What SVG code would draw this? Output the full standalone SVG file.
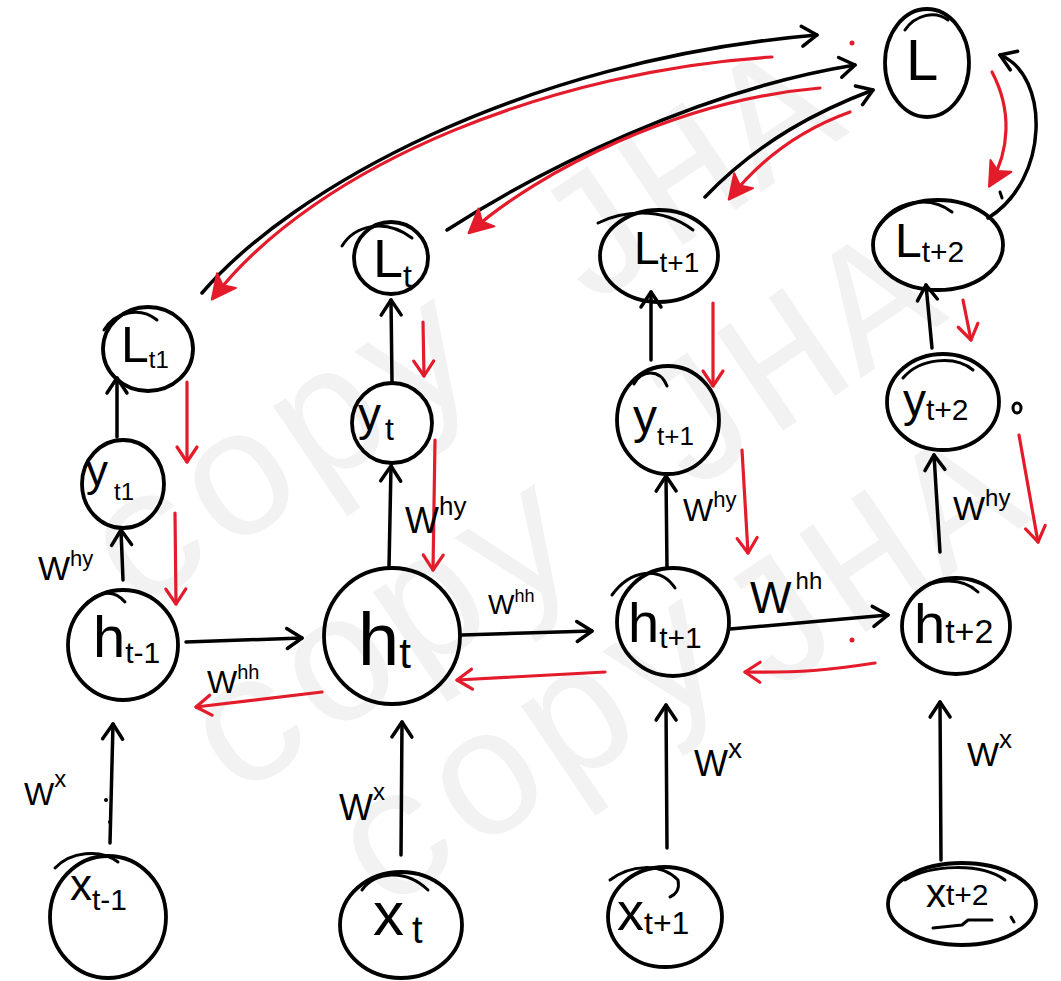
<svg xmlns="http://www.w3.org/2000/svg" width="1061" height="981" viewBox="0 0 1061 981">
<style>
.k{fill:none;stroke:#000;stroke-width:3.5;stroke-linecap:round;stroke-linejoin:round}
.r{fill:none;stroke:#e31b2b;stroke-width:3.2;stroke-linecap:round;stroke-linejoin:round}
.n{fill:none;stroke:#000;stroke-width:3.8}
.t{font-family:"Liberation Sans",Arial,sans-serif;fill:#000}
.wm{font-family:"Liberation Mono","Courier New",monospace;font-size:180px;fill:#f2f2f2}
</style>
<defs>
<marker id="ak" viewBox="-18 -13 22 26" markerWidth="22" markerHeight="26" refX="0" refY="0" orient="auto" markerUnits="userSpaceOnUse"><path d="M-15,-10 L0,0 L-15,10" fill="none" stroke="#000" stroke-width="3.5" stroke-linecap="round" stroke-linejoin="round"/></marker>
<marker id="ar" viewBox="-18 -13 22 26" markerWidth="22" markerHeight="26" refX="0" refY="0" orient="auto" markerUnits="userSpaceOnUse"><path d="M-15,-10 L0,0 L-15,10" fill="none" stroke="#e31b2b" stroke-width="3.2" stroke-linecap="round" stroke-linejoin="round"/></marker>
<marker id="af" viewBox="-26 -15 30 30" markerWidth="30" markerHeight="30" refX="0" refY="0" orient="auto" markerUnits="userSpaceOnUse"><path d="M-22,-12 L2,0 L-22,12 L-16,0 Z" fill="#e31b2b" stroke="#e31b2b" stroke-width="2" stroke-linejoin="round"/></marker>
</defs>
<rect width="1061" height="981" fill="#fff"/>
<g id="watermark" class="wm" transform="rotate(-34)">
<text x="-233" y="585">copy</text>
<text x="307" y="585">JHA</text>
<text x="-254" y="795">copy</text>
<text x="286" y="795">JHA</text>
<text x="-195" y="972">copy</text>
<text x="242" y="1008">JHA</text>
</g>
<g id="connectors">
<path class="k" d="M110,843 L113,724" marker-end="url(#ak)"/>
<path class="k" d="M401,855 L402,722" marker-end="url(#ak)"/>
<path class="k" d="M667,848 L666,705" marker-end="url(#ak)"/>
<path class="k" d="M941,860 L940,702" marker-end="url(#ak)"/>
<path class="k" d="M123,580 L121,530" marker-end="url(#ak)"/>
<path class="k" d="M389,568 L391,466" marker-end="url(#ak)"/>
<path class="k" d="M667,568 L666,476" marker-end="url(#ak)"/>
<path class="k" d="M940,552 L934,455" marker-end="url(#ak)"/>
<path class="k" d="M117,437 L117,378" marker-end="url(#ak)"/>
<path class="k" d="M392,382 L391,300" marker-end="url(#ak)"/>
<path class="k" d="M651,360 L651,292" marker-end="url(#ak)"/>
<path class="k" d="M932,348 L926,285" marker-end="url(#ak)"/>
<path class="k" d="M186,642 L302,638" marker-end="url(#ak)"/>
<path class="k" d="M462,635 L592,631" marker-end="url(#ak)"/>
<path class="k" d="M730,629 L888,615" marker-end="url(#ak)"/>
<path class="k" d="M202,293 C290,190 520,60 817,35" marker-end="url(#ak)"/>
<path class="k" d="M447,230 C540,170 700,90 855,65" marker-end="url(#ak)"/>
<path class="k" d="M705,197 C760,140 820,110 873,90" marker-end="url(#ak)"/>
<path class="k" d="M988,218 C1050,180 1050,75 1000,55" marker-end="url(#ak)"/>
<path class="r" d="M772,57 C560,70 320,160 213,298" marker-end="url(#af)"/>
<path class="r" d="M820,88 C680,100 540,170 470,232" marker-end="url(#af)"/>
<path class="r" d="M850,112 C800,130 760,160 730,198" marker-end="url(#af)"/>
<path class="r" d="M992,72 C1012,110 1010,150 990,185" marker-end="url(#af)"/>
<path class="r" d="M187,382 L187,462" marker-end="url(#ar)"/>
<path class="r" d="M175,513 L176,604" marker-end="url(#ar)"/>
<path class="r" d="M423,322 L424,376" marker-end="url(#ar)"/>
<path class="r" d="M435,440 L433,570" marker-end="url(#ar)"/>
<path class="r" d="M713,303 L713,386" marker-end="url(#ar)"/>
<path class="r" d="M742,450 L748,553" marker-end="url(#ar)"/>
<path class="r" d="M963,300 L971,340" marker-end="url(#ar)"/>
<path class="r" d="M1019,435 L1038,542" marker-end="url(#ar)"/>
<path class="r" d="M322,692 L196,707" marker-end="url(#ar)"/>
<path class="r" d="M605,672 L457,680" marker-end="url(#ar)"/>
<path class="r" d="M875,663 C830,670 800,673 745,672" marker-end="url(#ar)"/>
</g>
<g id="marks">
<circle cx="106" cy="800" r="2" fill="#000"/>
<circle cx="110" cy="822" r="2" fill="#000"/>
<circle cx="852" cy="43" r="2.5" fill="#e31b2b"/>
<circle cx="852" cy="640" r="2.5" fill="#e31b2b"/>
<ellipse cx="1017" cy="408" rx="4" ry="5" class="k" style="stroke-width:3"/>
<path class="k" style="stroke-width:3" d="M1000,192 L1002,198"/>
</g>
<g id="n-L"><ellipse class="n" cx="927" cy="63" rx="42" ry="54"/><path class="k" style="stroke-width:3" d="M905,30 C915,15 935,10 948,20"/><text class="t" x="906" y="80" font-size="58">L</text></g>
<g id="n-Lt1"><ellipse class="n" cx="148" cy="349" rx="45" ry="42"/><path class="k" style="stroke-width:3" d="M104,330 C115,312 140,306 157,320"/><text class="t" x="121" y="362" font-size="50">L<tspan font-size="24" dy="6">t1</tspan></text></g>
<g id="n-yt1"><ellipse class="n" cx="123" cy="484" rx="41" ry="44"/><text class="t" x="86" y="486" font-size="44">y<tspan font-size="24" dx="6" dy="14">t1</tspan></text></g>
<g id="n-ht1"><ellipse class="n" cx="123" cy="645" rx="55" ry="55"/><path class="k" style="stroke-width:3" d="M77,615 C90,595 110,585 125,602"/><text class="t" x="93" y="657" font-size="58">h<tspan font-size="30" dy="6">t-1</tspan></text></g>
<g id="n-xt1"><ellipse class="n" cx="108" cy="917" rx="58" ry="61"/><path class="k" style="stroke-width:3" d="M55,868 C70,852 100,848 118,862"/><text class="t" x="70" y="900" font-size="44">x<tspan font-size="30" dy="10">t-1</tspan></text></g>
<g id="n-Lt"><ellipse class="n" cx="391" cy="258" rx="37" ry="36"/><path class="k" style="stroke-width:3" d="M342,246 C355,225 385,218 412,238"/><text class="t" x="373" y="277" font-size="54">L<tspan font-size="32" dy="10">t</tspan></text></g>
<g id="n-yt"><ellipse class="n" cx="392" cy="423" rx="40" ry="40"/><text class="t" x="358" y="430" font-size="46">y<tspan font-size="32" dx="4" dy="10">t</tspan></text></g>
<g id="n-ht"><ellipse class="n" cx="392" cy="636" rx="68" ry="68"/><text class="t" x="358" y="665" font-size="74">h<tspan font-size="42" dy="3">t</tspan></text></g>
<g id="n-xt"><ellipse class="n" cx="401" cy="925" rx="61" ry="53"/><path class="k" style="stroke-width:3" d="M362,890 C375,872 405,868 428,890"/><text class="t" x="373" y="935" font-size="62">x<tspan font-size="38" dx="8" dy="8">t</tspan></text></g>
<g id="n-Lt+1"><ellipse class="n" cx="659" cy="256" rx="59" ry="46"/><path class="k" style="stroke-width:3" d="M598,223 C620,212 660,205 693,230"/><text class="t" x="634" y="264" font-size="46">L<tspan font-size="28" dy="8">t+1</tspan></text></g>
<g id="n-yt+1"><ellipse class="n" cx="668" cy="420" rx="51" ry="54"/><path class="k" style="stroke-width:3" d="M634,384 C640,370 660,368 667,386"/><text class="t" x="633" y="433" font-size="48">y<tspan font-size="26" dy="12">t+1</tspan></text></g>
<g id="n-ht+1"><ellipse class="n" cx="673" cy="622" rx="56" ry="54"/><path class="k" style="stroke-width:3" d="M612,595 C630,570 660,565 675,588"/><text class="t" x="628" y="642" font-size="56">h<tspan font-size="30" dy="6">t+1</tspan></text></g>
<g id="n-xt+1"><ellipse class="n" cx="665" cy="917" rx="57" ry="50"/><path class="k" style="stroke-width:3" d="M610,880 C630,865 660,862 678,880 C680,890 675,895 670,897"/><text class="t" x="617" y="930" font-size="54">x<tspan font-size="32" dy="4">t+1</tspan></text></g>
<g id="n-Lt+2"><ellipse class="n" cx="938" cy="245" rx="65" ry="45"/><path class="k" style="stroke-width:3" d="M880,225 C895,200 930,195 952,212"/><text class="t" x="895" y="257" font-size="48">L<tspan font-size="30" dy="5">t+2</tspan></text></g>
<g id="n-yt+2"><ellipse class="n" cx="943" cy="402" rx="56" ry="48"/><path class="k" style="stroke-width:3" d="M903,378 C920,358 955,355 973,370"/><text class="t" x="903" y="416" font-size="46">y<tspan font-size="30" dy="4">t+2</tspan></text></g>
<g id="n-ht+2"><ellipse class="n" cx="956" cy="626" rx="54" ry="48"/><path class="k" style="stroke-width:3" d="M910,600 C925,578 960,575 978,592"/><text class="t" x="914" y="643" font-size="56">h<tspan font-size="34">t+2</tspan></text></g>
<g id="n-xt+2"><ellipse class="n" cx="962" cy="904" rx="74" ry="41"/><path class="k" style="stroke-width:3" d="M905,880 C930,865 980,862 1005,880"/><path class="k" style="stroke-width:3" d="M933,928 L962,925 L968,920 L992,920 M1011,917 L1014,922"/><text class="t" x="926" y="907" font-size="40">x<tspan font-size="30" dy="-2">t+2</tspan></text></g>
<g id="labels">
<text class="t" x="38" y="580" font-size="34">W<tspan font-size="22" dy="-14">hy</tspan></text>
<text class="t" x="405" y="533" font-size="36">W<tspan font-size="26" dy="-18">hy</tspan></text>
<text class="t" x="683" y="521" font-size="32">W<tspan font-size="22" dy="-14">hy</tspan></text>
<text class="t" x="953" y="520" font-size="34">W<tspan font-size="24" dy="-14">hy</tspan></text>
<text class="t" x="207" y="693" font-size="32">W<tspan font-size="20" dy="-14">hh</tspan></text>
<text class="t" x="488" y="614" font-size="28">W<tspan font-size="18" dy="-12">hh</tspan></text>
<text class="t" x="750" y="613" font-size="44">W<tspan font-size="24" dx="4" dy="-24">hh</tspan></text>
<text class="t" x="24" y="805" font-size="32">W<tspan font-size="24" dy="-18">x</tspan></text>
<text class="t" x="339" y="820" font-size="36">W<tspan font-size="24" dy="-20">x</tspan></text>
<text class="t" x="694" y="776" font-size="36">W<tspan font-size="28" dy="-18">x</tspan></text>
<text class="t" x="967" y="766" font-size="34">W<tspan font-size="26" dy="-18">x</tspan></text>
</g>
</svg>
